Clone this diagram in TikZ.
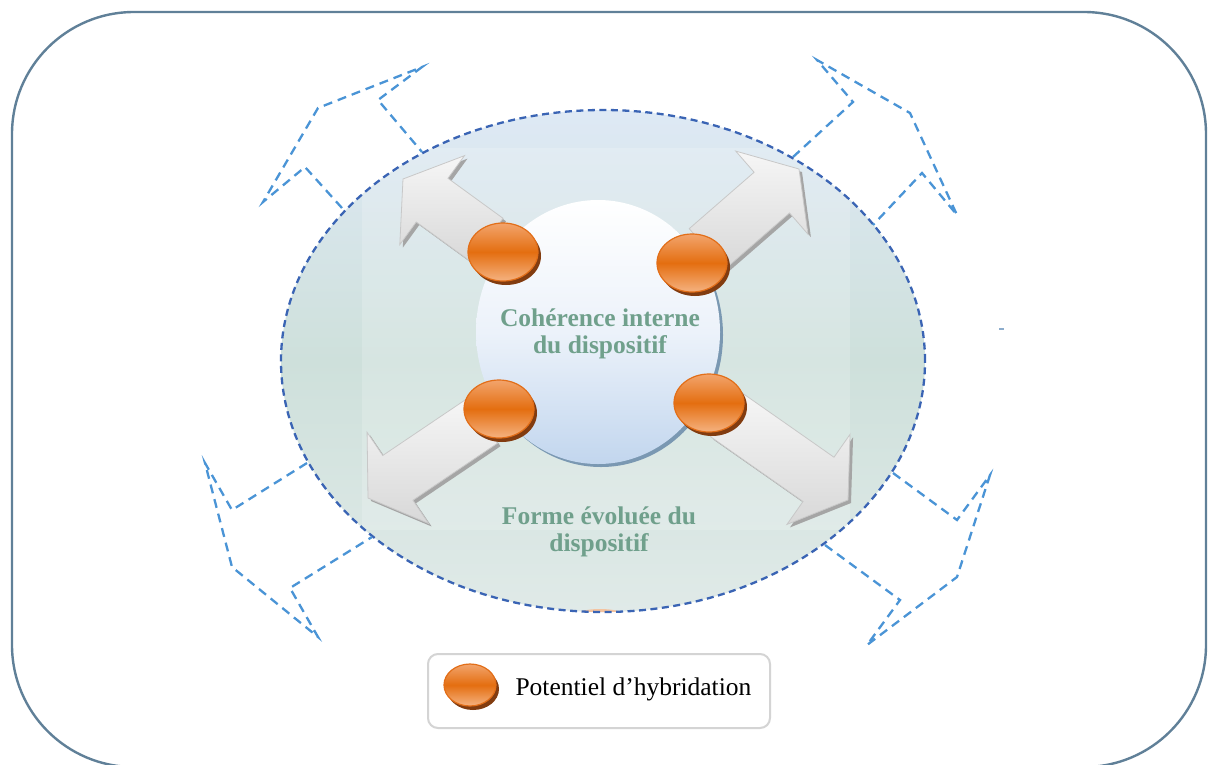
\documentclass[tikz,border=0pt]{standalone}
\usepackage{fontspec}
\setmainfont{Liberation Serif}
\usetikzlibrary{calc}
\definecolor{frameC}{RGB}{96,128,152}
\definecolor{ellBorder}{RGB}{58,100,180}
\definecolor{connC}{RGB}{74,148,214}
\definecolor{ellTop}{RGB}{222,233,245}
\definecolor{ellMid}{RGB}{206,224,219}
\definecolor{ellBot}{RGB}{224,234,232}
\definecolor{circBot}{RGB}{194,214,238}
\definecolor{circMid}{RGB}{236,242,250}
\definecolor{circEdge}{RGB}{122,152,178}
\definecolor{txtC}{RGB}{112,160,140}
\definecolor{discA}{RGB}{242,164,108}
\definecolor{discB}{RGB}{228,110,16}
\definecolor{discC}{RGB}{245,178,128}
\definecolor{discEdge}{RGB}{226,110,24}
\definecolor{discSide}{RGB}{130,60,16}
\definecolor{arrowA}{RGB}{246,246,246}
\definecolor{arrowB}{RGB}{216,216,216}
\definecolor{arrowSide}{RGB}{165,165,165}
\definecolor{arrowEdge}{RGB}{200,200,200}
\definecolor{legBorder}{RGB}{212,212,212}
\definecolor{sliverC}{RGB}{244,196,160}
\definecolor{tickC}{RGB}{140,172,204}

\newcommand{\hybdisc}[4]{%
  \fill[discSide] ($#2+(3,4)$) ellipse [x radius=#3pt, y radius=#4pt];
  \shade[top color=discA, bottom color=discC, middle color=discB, draw=discEdge, line width=1.2pt] #2 ellipse [x radius=#3pt, y radius=#4pt];
  \coordinate (#1) at #2;}

\newcommand{\blockarrow}[4]{%
  \fill[arrowSide, shift={#2}, shift={(3,3)}, rotate=#3] (0,0) -- (-36,55) -- (-36,27) -- (-#4,27) -- (-#4,-27) -- (-36,-27) -- (-36,-55) -- cycle;
  \shade[top color=arrowA, bottom color=arrowB, draw=arrowEdge, line width=0.8pt, shift={#2}, rotate=#3] (0,0) -- (-36,55) -- (-36,27) -- (-#4,27) -- (-#4,-27) -- (-36,-27) -- (-36,-55) -- cycle;
  \coordinate (#1) at #2;}

\begin{document}
\begin{tikzpicture}[x=1pt,y=-1pt,
  frame/.style={draw=frameC, line width=2.4pt, rounded corners=122pt},
  conn/.style={draw=connC, line width=2.3pt, dash pattern=on 9pt off 6pt},
  ellborder/.style={draw=ellBorder, line width=2.3pt, dash pattern=on 7pt off 4.5pt},
  maintext/.style={text=txtC, font=\bfseries\fontsize{25.5}{27.5}\selectfont, align=center},
  legtext/.style={font=\fontsize{25.5}{27}\selectfont, anchor=base west}]
\useasboundingbox (0,0) rectangle (1208,764);
\fill[white] (0,0) rectangle (1208,764);
\draw[frame] (12,12) rectangle (1206,767);

% background ellipse
\shade[top color=ellTop, bottom color=ellBot, middle color=ellMid] (603,361) ellipse [x radius=322pt, y radius=251pt];
\begin{scope}
  \clip (603,361) ellipse [x radius=322pt, y radius=251pt];
  \fill[white, opacity=0.18] (362,148) rectangle (850,530);
  \fill[sliverC] (600,616) ellipse [x radius=26pt, y radius=7pt];
\end{scope}

% inner circle
\fill[circEdge] (601,335) ellipse [x radius=122pt, y radius=132pt];
\shade[top color=white, bottom color=circBot, middle color=circMid] (598,332) ellipse [x radius=122pt, y radius=132pt];

% block arrows
\blockarrow{aTL}{(403,179)}{144}{104}
\blockarrow{aTR}{(799,169)}{41}{122}
\blockarrow{aBL}{(368,498)}{214}{138}
\blockarrow{aBR}{(848,500)}{-35}{149}

% hybridation discs
\hybdisc{dTL}{(503,252)}{35}{29}
\hybdisc{dTR}{(692,263)}{35}{29}
\hybdisc{dBL}{(499,409)}{35}{29}
\hybdisc{dBR}{(709,403)}{35}{29}

% texts
\node[maintext] (inner) at (600,334) {Cohérence interne\\du dispositif};
\node[maintext] (outer) at (599,532) {Forme évoluée du\\dispositif};

% dashed ellipse border
\draw[ellborder] (603,361) ellipse [x radius=322pt, y radius=251pt];

% dashed bent arrows
\draw[conn] (342,208) -- (305,167) -- (263,202) -- (318,108) -- (422,67) -- (378,100) -- (422,152);
\draw[conn] (793,157) -- (853,102) -- (817,60) -- (910,113) -- (957,215) -- (922,173) -- (873,225);
\draw[conn] (307,463) -- (232,510) -- (205,463) -- (232,567) -- (318,637) -- (290,588) -- (372,537);
\draw[conn] (893,473) -- (957,520) -- (990,475) -- (957,577) -- (867,645) -- (900,600) -- (825,545);

% small tick
\draw[tickC, line width=1.6pt] (999,329) -- (1004,329);

% legend
\draw[legBorder, fill=white, line width=2pt, rounded corners=10pt] (428,654) rectangle (770,728);
\hybdisc{dLeg}{(470,685)}{26}{21}
\node[legtext] (legend) at (512,695) {Potentiel d’hybridation};
\end{tikzpicture}
\end{document}
